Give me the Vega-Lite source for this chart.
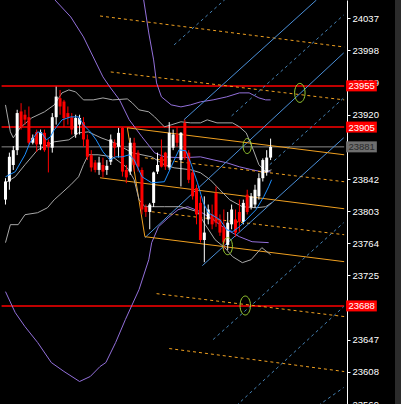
{
  "$schema": "https://vega.github.io/schema/vega-lite/v6.json",
  "width": 395,
  "height": 404,
  "autosize": {"type": "none"},
  "padding": {"left": 0, "top": 0, "right": 6, "bottom": 0},
  "background": "#2b2b2b",
  "config": {
    "view": {"stroke": null, "fill": "#000000"},
    "axis": {"grid": false, "title": null, "labelOverlap": false, "labelBound": false, "labelFlush": false},
    "axisY": {"labelOverlap": false, "domainColor": "#ffffff", "tickColor": "#ffffff", "labelColor": "#ffffff", "labelFont": "Liberation Sans", "labelFontSize": 9.5, "labelPadding": 2, "tickSize": 3}
  },
  "datasets": {
    "candles": [
      {"t":0,"o":23817,"h":23843,"l":23811,"c":23839},{"t":1,"o":23839,"h":23874,"l":23829,"c":23869},{"t":2,"o":23859,"h":23882,"l":23853,"c":23877},{"t":3,"o":23877,"h":23926,"l":23871,"c":23922},{"t":4,"o":23924,"h":23934,"l":23902,"c":23905},{"t":5,"o":23920,"h":23926,"l":23908,"c":23914},{"t":6,"o":23917,"h":23930,"l":23884,"c":23886},{"t":7,"o":23886,"h":23896,"l":23884,"c":23892},{"t":8,"o":23899,"h":23902,"l":23875,"c":23884},{"t":9,"o":23884,"h":23902,"l":23877,"c":23899},
      {"t":10,"o":23898,"h":23902,"l":23875,"c":23877},{"t":11,"o":23887,"h":23890,"l":23850,"c":23881},{"t":12,"o":23880,"h":23922,"l":23874,"c":23917},{"t":13,"o":23917,"h":23954,"l":23908,"c":23942},{"t":14,"o":23940,"h":23950,"l":23920,"c":23930},{"t":15,"o":23936,"h":23938,"l":23905,"c":23916},{"t":16,"o":23922,"h":23930,"l":23908,"c":23917},{"t":17,"o":23917,"h":23922,"l":23896,"c":23902},{"t":18,"o":23896,"h":23920,"l":23892,"c":23916},{"t":19,"o":23908,"h":23920,"l":23896,"c":23916},
      {"t":20,"o":23911,"h":23917,"l":23881,"c":23890},{"t":21,"o":23890,"h":23896,"l":23865,"c":23869},{"t":22,"o":23871,"h":23877,"l":23851,"c":23856},{"t":23,"o":23862,"h":23865,"l":23850,"c":23853},{"t":24,"o":23853,"h":23869,"l":23847,"c":23862},{"t":25,"o":23859,"h":23868,"l":23844,"c":23851},{"t":26,"o":23853,"h":23865,"l":23847,"c":23858},{"t":27,"o":23863,"h":23896,"l":23859,"c":23890},{"t":28,"o":23886,"h":23890,"l":23869,"c":23880},{"t":29,"o":23881,"h":23904,"l":23868,"c":23898},
      {"t":30,"o":23904,"h":23905,"l":23845,"c":23851},{"t":31,"o":23853,"h":23859,"l":23837,"c":23844},{"t":32,"o":23851,"h":23892,"l":23847,"c":23886},{"t":33,"o":23886,"h":23892,"l":23851,"c":23859},{"t":34,"o":23874,"h":23877,"l":23851,"c":23857},{"t":35,"o":23853,"h":23856,"l":23799,"c":23805},{"t":36,"o":23808,"h":23811,"l":23796,"c":23802},{"t":37,"o":23802,"h":23813,"l":23781,"c":23811},{"t":38,"o":23813,"h":23851,"l":23808,"c":23850},{"t":39,"o":23851,"h":23874,"l":23848,"c":23859},
      {"t":40,"o":23869,"h":23890,"l":23856,"c":23857},{"t":41,"o":23874,"h":23875,"l":23853,"c":23857},{"t":42,"o":23856,"h":23911,"l":23853,"c":23898},{"t":43,"o":23880,"h":23902,"l":23877,"c":23896},{"t":44,"o":23896,"h":23905,"l":23881,"c":23886},{"t":45,"o":23865,"h":23899,"l":23833,"c":23898},{"t":46,"o":23910,"h":23914,"l":23865,"c":23868},{"t":47,"o":23874,"h":23877,"l":23837,"c":23841},{"t":48,"o":23850,"h":23853,"l":23817,"c":23821},{"t":49,"o":23831,"h":23835,"l":23787,"c":23799},
      {"t":50,"o":23813,"h":23821,"l":23765,"c":23768},{"t":51,"o":23768,"h":23821,"l":23741,"c":23777},{"t":52,"o":23793,"h":23811,"l":23787,"c":23805},{"t":53,"o":23799,"h":23811,"l":23781,"c":23787},{"t":54,"o":23825,"h":23833,"l":23784,"c":23789},{"t":55,"o":23793,"h":23799,"l":23773,"c":23777},{"t":56,"o":23784,"h":23805,"l":23756,"c":23765},{"t":57,"o":23762,"h":23802,"l":23756,"c":23789},{"t":58,"o":23787,"h":23811,"l":23781,"c":23805},{"t":59,"o":23793,"h":23805,"l":23772,"c":23777},
      {"t":60,"o":23802,"h":23817,"l":23778,"c":23790},{"t":61,"o":23790,"h":23817,"l":23787,"c":23813},{"t":62,"o":23823,"h":23829,"l":23799,"c":23802},{"t":63,"o":23808,"h":23825,"l":23805,"c":23821},{"t":64,"o":23811,"h":23835,"l":23807,"c":23829},{"t":65,"o":23821,"h":23849,"l":23817,"c":23843},{"t":66,"o":23843,"h":23867,"l":23839,"c":23865},{"t":67,"o":23850,"h":23877,"l":23846,"c":23868},{"t":68,"o":23868,"h":23891,"l":23865,"c":23881}
    ],
    "lines": [
      {"g":"ma","id":"ma","t":0,"p":23844.7},{"g":"ma","id":"ma","t":2.5,"p":23850.8},{"g":"ma","id":"ma","t":5,"p":23871.4},{"g":"ma","id":"ma","t":6.25,"p":23885.9},{"g":"ma","id":"ma","t":8.25,"p":23899.2},{"g":"ma","id":"ma","t":9.25,"p":23898},{"g":"ma","id":"ma","t":10.5,"p":23889.5},{"g":"ma","id":"ma","t":11.5,"p":23893.2},{"g":"ma","id":"ma","t":12.5,"p":23901.7},{"g":"ma","id":"ma","t":14.5,"p":23913.8},{"g":"ma","id":"ma","t":16.75,"p":23917.4},{"g":"ma","id":"ma","t":18.75,"p":23917.4},{"g":"ma","id":"ma","t":20,"p":23907.7},{"g":"ma","id":"ma","t":21.75,"p":23899.2},{"g":"ma","id":"ma","t":23.25,"p":23889.5},{"g":"ma","id":"ma","t":25,"p":23875},{"g":"ma","id":"ma","t":26.75,"p":23865.3},{"g":"ma","id":"ma","t":28.25,"p":23868.9},{"g":"ma","id":"ma","t":30,"p":23868.9},{"g":"ma","id":"ma","t":31.75,"p":23871.4},{"g":"ma","id":"ma","t":33,"p":23865.3},{"g":"ma","id":"ma","t":35,"p":23844.7},{"g":"ma","id":"ma","t":37.5,"p":23837.4},{"g":"ma","id":"ma","t":40.75,"p":23838.7},{"g":"ma","id":"ma","t":42.5,"p":23856.8},{"g":"ma","id":"ma","t":44.5,"p":23877.4},{"g":"ma","id":"ma","t":46.25,"p":23876.2},{"g":"ma","id":"ma","t":47.5,"p":23861.7},{"g":"ma","id":"ma","t":49.25,"p":23837.4},{"g":"ma","id":"ma","t":50.75,"p":23813.2},{"g":"ma","id":"ma","t":52,"p":23801.1},{"g":"ma","id":"ma","t":53.75,"p":23796.2},{"g":"ma","id":"ma","t":55,"p":23792.6},{"g":"ma","id":"ma","t":56.75,"p":23780.5},{"g":"ma","id":"ma","t":58.25,"p":23778.1},{"g":"ma","id":"ma","t":60,"p":23784.1},{"g":"ma","id":"ma","t":61.75,"p":23792.6},{"g":"ma","id":"ma","t":64.25,"p":23804.7},{"g":"ma","id":"ma","t":66.25,"p":23820.6},{"g":"ma","id":"ma","t":67.5,"p":23832.6},{"g":"ma","id":"ma","t":68.25,"p":23841.1},

      {"g":"bb","id":"u","t":0,"p":23931.9},{"g":"bb","id":"u","t":1.25,"p":23899.2},{"g":"bb","id":"u","t":2,"p":23892},{"g":"bb","id":"u","t":3.75,"p":23904.1},{"g":"bb","id":"u","t":6.75,"p":23916.2},{"g":"bb","id":"u","t":10,"p":23923.5},{"g":"bb","id":"u","t":12.5,"p":23931.9},{"g":"bb","id":"u","t":14.5,"p":23946.5},{"g":"bb","id":"u","t":16.25,"p":23950.1},{"g":"bb","id":"u","t":18,"p":23947.7},{"g":"bb","id":"u","t":20,"p":23938},{"g":"bb","id":"u","t":22.5,"p":23938},{"g":"bb","id":"u","t":25,"p":23940.4},{"g":"bb","id":"u","t":27.5,"p":23938},{"g":"bb","id":"u","t":31.25,"p":23939.2},{"g":"bb","id":"u","t":32.5,"p":23934.4},{"g":"bb","id":"u","t":34.25,"p":23925.9},{"g":"bb","id":"u","t":36.75,"p":23923.5},{"g":"bb","id":"u","t":38.25,"p":23917.4},{"g":"bb","id":"u","t":40.75,"p":23905.3},{"g":"bb","id":"u","t":42.5,"p":23907.7},{"g":"bb","id":"u","t":45,"p":23911.4},{"g":"bb","id":"u","t":47.5,"p":23910.1},{"g":"bb","id":"u","t":50,"p":23910.1},{"g":"bb","id":"u","t":51.75,"p":23913.8},{"g":"bb","id":"u","t":54.25,"p":23910.1},{"g":"bb","id":"u","t":58.25,"p":23910.1},{"g":"bb","id":"u","t":60,"p":23905.3},{"g":"bb","id":"u","t":61.75,"p":23898},{"g":"bb","id":"u","t":63.25,"p":23881.1},{"g":"bb","id":"u","t":65,"p":23859.3},{"g":"bb","id":"u","t":66.75,"p":23850.8},{"g":"bb","id":"u","t":68.25,"p":23853.2},

      {"g":"bb","id":"m","t":0,"p":23837.4},{"g":"bb","id":"m","t":2.5,"p":23844.7},{"g":"bb","id":"m","t":5,"p":23859.3},{"g":"bb","id":"m","t":8.25,"p":23877.4},{"g":"bb","id":"m","t":12.5,"p":23887.1},{"g":"bb","id":"m","t":16.25,"p":23889.5},{"g":"bb","id":"m","t":18.75,"p":23898},{"g":"bb","id":"m","t":21.25,"p":23899.2},{"g":"bb","id":"m","t":24.5,"p":23892},{"g":"bb","id":"m","t":28,"p":23885.9},{"g":"bb","id":"m","t":32.5,"p":23873.8},{"g":"bb","id":"m","t":37.5,"p":23868.9},{"g":"bb","id":"m","t":40.75,"p":23859.3},{"g":"bb","id":"m","t":43.25,"p":23855.6},{"g":"bb","id":"m","t":47.5,"p":23853.2},{"g":"bb","id":"m","t":50,"p":23849.6},{"g":"bb","id":"m","t":52.5,"p":23841.1},{"g":"bb","id":"m","t":55,"p":23828.9},{"g":"bb","id":"m","t":57.5,"p":23816.8},{"g":"bb","id":"m","t":60.75,"p":23808.4},{"g":"bb","id":"m","t":64.25,"p":23807.1},{"g":"bb","id":"m","t":66.75,"p":23808.4},{"g":"bb","id":"m","t":68.25,"p":23813.2},

      {"g":"bb","id":"l","t":0,"p":23764.8},{"g":"bb","id":"l","t":1.25,"p":23786.6},{"g":"bb","id":"l","t":3.25,"p":23786.6},{"g":"bb","id":"l","t":5,"p":23798.7},{"g":"bb","id":"l","t":8.25,"p":23801.1},{"g":"bb","id":"l","t":10.75,"p":23807.1},{"g":"bb","id":"l","t":12.5,"p":23816.8},{"g":"bb","id":"l","t":14.5,"p":23825.3},{"g":"bb","id":"l","t":16.75,"p":23835},{"g":"bb","id":"l","t":18.75,"p":23844.7},{"g":"bb","id":"l","t":20,"p":23859.3},{"g":"bb","id":"l","t":21.25,"p":23871.4},{"g":"bb","id":"l","t":23.75,"p":23871.4},{"g":"bb","id":"l","t":27.5,"p":23868.9},{"g":"bb","id":"l","t":31.25,"p":23855.6},{"g":"bb","id":"l","t":33,"p":23841.1},{"g":"bb","id":"l","t":34.25,"p":23816.8},{"g":"bb","id":"l","t":35.75,"p":23808.4},{"g":"bb","id":"l","t":40.75,"p":23808.4},{"g":"bb","id":"l","t":45,"p":23808.4},{"g":"bb","id":"l","t":49.25,"p":23802.3},{"g":"bb","id":"l","t":51.25,"p":23786.6},{"g":"bb","id":"l","t":53.75,"p":23768.4},{"g":"bb","id":"l","t":56.25,"p":23758.7},{"g":"bb","id":"l","t":58.25,"p":23747.8},{"g":"bb","id":"l","t":60.75,"p":23740.5},{"g":"bb","id":"l","t":63,"p":23744.1},{"g":"bb","id":"l","t":65.75,"p":23758.7},{"g":"bb","id":"l","t":68,"p":23750.2},

      {"g":"env","id":"pu","t":35.25,"p":24065.3},{"g":"env","id":"pu","t":36.75,"p":24019.2},{"g":"env","id":"pu","t":38,"p":23986.5},{"g":"env","id":"pu","t":38.75,"p":23958.6},{"g":"env","id":"pu","t":40,"p":23941.7},{"g":"env","id":"pu","t":42.5,"p":23932},{"g":"env","id":"pu","t":45,"p":23929.5},{"g":"env","id":"pu","t":47.5,"p":23932},{"g":"env","id":"pu","t":50,"p":23935.6},{"g":"env","id":"pu","t":53.25,"p":23938},{"g":"env","id":"pu","t":56.75,"p":23941.7},{"g":"env","id":"pu","t":60,"p":23946.5},{"g":"env","id":"pu","t":62.5,"p":23946.5},{"g":"env","id":"pu","t":65,"p":23940.4},{"g":"env","id":"pu","t":66.75,"p":23938},{"g":"env","id":"pu","t":68,"p":23938},

      {"g":"env","id":"pm","t":11.5,"p":24065.3},{"g":"env","id":"pm","t":16.75,"p":24038.6},{"g":"env","id":"pm","t":20,"p":24014.4},{"g":"env","id":"pm","t":22.5,"p":23990.1},{"g":"env","id":"pm","t":25,"p":23965.9},{"g":"env","id":"pm","t":26.75,"p":23953.8},{"g":"env","id":"pm","t":29.25,"p":23938},{"g":"env","id":"pm","t":31.75,"p":23913.8},{"g":"env","id":"pm","t":35,"p":23893.2},{"g":"env","id":"pm","t":38.25,"p":23873.8},{"g":"env","id":"pm","t":40.75,"p":23868.9},{"g":"env","id":"pm","t":45,"p":23867.7},{"g":"env","id":"pm","t":50,"p":23868.9},{"g":"env","id":"pm","t":53.25,"p":23865.3},{"g":"env","id":"pm","t":56.75,"p":23861.7},{"g":"env","id":"pm","t":60,"p":23856.8},{"g":"env","id":"pm","t":63.25,"p":23853.2},{"g":"env","id":"pm","t":65.75,"p":23850.8},{"g":"env","id":"pm","t":68,"p":23850.8},

      {"g":"env","id":"pl","t":0,"p":23705.3},{"g":"env","id":"pl","t":2.5,"p":23679.9},{"g":"env","id":"pl","t":5,"p":23662.9},{"g":"env","id":"pl","t":8.25,"p":23643.6},{"g":"env","id":"pl","t":11.75,"p":23619.3},{"g":"env","id":"pl","t":15,"p":23608.5},{"g":"env","id":"pl","t":19,"p":23596.3},{"g":"env","id":"pl","t":21.75,"p":23602.4},{"g":"env","id":"pl","t":24.25,"p":23614.5},{"g":"env","id":"pl","t":25.75,"p":23619.3},{"g":"env","id":"pl","t":28.25,"p":23643.6},{"g":"env","id":"pl","t":30.75,"p":23671.4},{"g":"env","id":"pl","t":34.25,"p":23707.8},{"g":"env","id":"pl","t":36.75,"p":23744.1},{"g":"env","id":"pl","t":37.5,"p":23764.8},{"g":"env","id":"pl","t":39.25,"p":23784.1},{"g":"env","id":"pl","t":41.75,"p":23795},{"g":"env","id":"pl","t":44.25,"p":23804.7},{"g":"env","id":"pl","t":46.75,"p":23808.4},{"g":"env","id":"pl","t":50,"p":23802.3},{"g":"env","id":"pl","t":53.25,"p":23792.6},{"g":"env","id":"pl","t":56.75,"p":23780.5},{"g":"env","id":"pl","t":60,"p":23772},{"g":"env","id":"pl","t":63.25,"p":23765.9},{"g":"env","id":"pl","t":67.5,"p":23764.8},

      {"g":"fork","id":"f1","t":31.25,"p":23904.1},{"g":"fork","id":"f1","t":86.875,"p":23871.4},
      {"g":"fork","id":"f2","t":24.25,"p":23843.5},{"g":"fork","id":"f2","t":86.875,"p":23805.9},
      {"g":"fork","id":"f3","t":35.75,"p":23772},{"g":"fork","id":"f3","t":86.875,"p":23741.7},
      {"g":"fork","id":"f4","t":31.25,"p":23904.1},{"g":"fork","id":"f4","t":35.75,"p":23772},

      {"g":"forkd","id":"d1","t":24.25,"p":24039.8},{"g":"forkd","id":"d1","t":86.875,"p":24002.2},
      {"g":"forkd","id":"d2","t":27,"p":23971.9},{"g":"forkd","id":"d2","t":86.875,"p":23938},
      {"g":"forkd","id":"d3","t":35.75,"p":23867.7},{"g":"forkd","id":"d3","t":86.875,"p":23838.7},
      {"g":"forkd","id":"d4","t":37.5,"p":23802.3},{"g":"forkd","id":"d4","t":86.875,"p":23774.4},
      {"g":"forkd","id":"d5","t":38.75,"p":23702.9},{"g":"forkd","id":"d5","t":86.875,"p":23675.1},
      {"g":"forkd","id":"d6","t":42,"p":23636.3},{"g":"forkd","id":"d6","t":86.875,"p":23608.4},

      {"g":"diags","id":"b2","t":45.75,"p":23913.8},{"g":"diags","id":"b2","t":79.75,"p":24059.2},
      {"g":"diags","id":"s1","t":35.75,"p":23770.8},{"g":"diags","id":"s1","t":86.75,"p":23995},
      {"g":"diags","id":"s2","t":50.5,"p":23736.9},{"g":"diags","id":"s2","t":86.75,"p":23892},
      {"g":"diag","id":"b1","t":43.25,"p":24004.7},{"g":"diag","id":"b1","t":57,"p":24062.8},
      {"g":"diag","id":"bd1","t":58,"p":23918.6},{"g":"diag","id":"bd1","t":86.75,"p":24041},
      {"g":"diag","id":"bd2","t":65.5,"p":23849.6},{"g":"diag","id":"bd2","t":86.75,"p":23940.4},
      {"g":"diag","id":"b6","t":53.25,"p":23647.2},{"g":"diag","id":"b6","t":86.75,"p":23789},
      {"g":"diag","id":"b7","t":59.25,"p":23567.2},{"g":"diag","id":"b7","t":86.75,"p":23687.2},
      {"g":"diag","id":"b8","t":80.25,"p":23567.2},{"g":"diag","id":"b8","t":86.75,"p":23589}
    ],
    "levels": [
      {"p":23955,"kind":"line"},{"p":23905,"kind":"line"},{"p":23688,"kind":"line"},{"p":23881,"kind":"price"}
    ],
    "rings": [
      {"t":75.5,"p":23946.5,"kind":"big"},{"t":61.5,"p":23688.5,"kind":"big"},{"t":62,"p":23882,"kind":"small"},{"t":57,"p":23760.5,"kind":"mid"}
    ]
  },
  "layer": [
    {
      "data": {"name": "levels"},
      "mark": {"type": "rule", "clip": true},
      "encoding": {
        "x": {"datum": -1, "type": "quantitative", "scale": {"domain": [-0.125, 98.625], "nice": false, "zero": false}, "axis": null},
        "x2": {"datum": 86.875},
        "y": {"field": "p", "type": "quantitative", "scale": {"domain": [23569, 24059.2], "nice": false, "zero": false},
              "axis": {"orient": "right", "offset": -48, "tickCount": 30, "values": [24037,23998,23959,23920,23881,23842,23803,23764,23725,23686,23647,23608,23569], "format": "d", "labelExpr": "datum.value == 23686 || datum.value == 23881 ? '' : datum.label", "domainColor": "#ffffff", "domainWidth": 1, "tickColor": "#ffffff", "tickSize": 3, "tickWidth": 1, "labelColor": "#ffffff", "labelFont": "Liberation Sans", "labelFontSize": 9.5, "labelPadding": 2, "grid": false, "title": null, "labelOverlap": false, "labelSeparation": 0, "labelFlush": false, "labelBound": false}},
        "color": {"condition": {"test": "datum.kind === 'price'", "value": "#8a8a8a"}, "value": "#ff0000"},
        "strokeWidth": {"condition": {"test": "datum.kind === 'price'", "value": 1}, "value": 1.5}
      }
    },
    {
      "data": {"name": "lines"},
      "transform": [{"filter": {"field": "g", "equal": "env"}}],
      "mark": {"type": "line", "clip": true, "strokeWidth": 1, "color": "#9370db"},
      "encoding": {
        "x": {"field": "t", "type": "quantitative", "scale": {"domain": [-0.125, 98.625], "nice": false, "zero": false}, "axis": null},
        "y": {"field": "p", "type": "quantitative", "scale": {"domain": [23569, 24059.2], "nice": false, "zero": false}},
        "detail": {"field": "id"}
      }
    },
    {
      "data": {"name": "lines"},
      "transform": [{"filter": {"field": "g", "equal": "forkd"}}],
      "mark": {"type": "line", "clip": true, "strokeWidth": 1, "color": "#f0a020", "strokeDash": [3, 3]},
      "encoding": {
        "x": {"field": "t", "type": "quantitative", "scale": {"domain": [-0.125, 98.625], "nice": false, "zero": false}, "axis": null},
        "y": {"field": "p", "type": "quantitative", "scale": {"domain": [23569, 24059.2], "nice": false, "zero": false}},
        "detail": {"field": "id"}
      }
    },
    {
      "data": {"name": "lines"},
      "transform": [{"filter": {"field": "g", "equal": "diag"}}],
      "mark": {"type": "line", "clip": true, "strokeWidth": 1, "color": "#4682b4", "strokeDash": [3, 3]},
      "encoding": {
        "x": {"field": "t", "type": "quantitative", "scale": {"domain": [-0.125, 98.625], "nice": false, "zero": false}, "axis": null},
        "y": {"field": "p", "type": "quantitative", "scale": {"domain": [23569, 24059.2], "nice": false, "zero": false}},
        "detail": {"field": "id"}
      }
    },
    {
      "data": {"name": "lines"},
      "transform": [{"filter": {"field": "g", "equal": "diags"}}],
      "mark": {"type": "line", "clip": true, "strokeWidth": 1, "color": "#4a8fd8"},
      "encoding": {
        "x": {"field": "t", "type": "quantitative", "scale": {"domain": [-0.125, 98.625], "nice": false, "zero": false}, "axis": null},
        "y": {"field": "p", "type": "quantitative", "scale": {"domain": [23569, 24059.2], "nice": false, "zero": false}},
        "detail": {"field": "id"}
      }
    },
    {
      "data": {"name": "lines"},
      "transform": [{"filter": {"field": "g", "equal": "fork"}}],
      "mark": {"type": "line", "clip": true, "strokeWidth": 1, "color": "#f0a020"},
      "encoding": {
        "x": {"field": "t", "type": "quantitative", "scale": {"domain": [-0.125, 98.625], "nice": false, "zero": false}, "axis": null},
        "y": {"field": "p", "type": "quantitative", "scale": {"domain": [23569, 24059.2], "nice": false, "zero": false}},
        "detail": {"field": "id"}
      }
    },
    {
      "data": {"name": "lines"},
      "transform": [{"filter": {"field": "g", "equal": "bb"}}],
      "mark": {"type": "line", "clip": true, "strokeWidth": 1, "color": "#a8a8a8"},
      "encoding": {
        "x": {"field": "t", "type": "quantitative", "scale": {"domain": [-0.125, 98.625], "nice": false, "zero": false}, "axis": null},
        "y": {"field": "p", "type": "quantitative", "scale": {"domain": [23569, 24059.2], "nice": false, "zero": false}},
        "detail": {"field": "id"}
      }
    },
    {
      "data": {"name": "candles"},
      "mark": {"type": "rule", "strokeWidth": 1},
      "encoding": {
        "x": {"field": "t", "type": "quantitative", "scale": {"domain": [-0.125, 98.625], "nice": false, "zero": false}, "axis": null},
        "y": {"field": "l", "type": "quantitative", "scale": {"domain": [23569, 24059.2], "nice": false, "zero": false}},
        "y2": {"field": "h"},
        "color": {"condition": {"test": "datum.c < datum.o", "value": "#ff0000"}, "value": "#ffffff"}
      }
    },
    {
      "data": {"name": "candles"},
      "mark": {"type": "bar", "width": 3},
      "encoding": {
        "x": {"field": "t", "type": "quantitative", "scale": {"domain": [-0.125, 98.625], "nice": false, "zero": false}, "axis": null},
        "y": {"field": "o", "type": "quantitative", "scale": {"domain": [23569, 24059.2], "nice": false, "zero": false}},
        "y2": {"field": "c"},
        "color": {"condition": {"test": "datum.c < datum.o", "value": "#ff0000"}, "value": "#ffffff"}
      }
    },
    {
      "data": {"name": "lines"},
      "transform": [{"filter": {"field": "g", "equal": "ma"}}],
      "mark": {"type": "line", "clip": true, "strokeWidth": 1, "color": "#1e90ff"},
      "encoding": {
        "x": {"field": "t", "type": "quantitative", "scale": {"domain": [-0.125, 98.625], "nice": false, "zero": false}, "axis": null},
        "y": {"field": "p", "type": "quantitative", "scale": {"domain": [23569, 24059.2], "nice": false, "zero": false}},
        "detail": {"field": "id"}
      }
    },
    {
      "data": {"name": "rings"},
      "mark": {"type": "point", "filled": false, "strokeWidth": 1, "color": "#9acd32", "opacity": 1, "shape": "M -0.55 0 A 0.55 1 0 1 0 0.55 0 A 0.55 1 0 1 0 -0.55 0 Z"},
      "encoding": {
        "x": {"field": "t", "type": "quantitative", "scale": {"domain": [-0.125, 98.625], "nice": false, "zero": false}, "axis": null},
        "y": {"field": "p", "type": "quantitative", "scale": {"domain": [23569, 24059.2], "nice": false, "zero": false}},
        "size": {"field": "kind", "type": "nominal", "scale": {"domain": ["big", "mid", "small"], "range": [361, 225, 144]}, "legend": null}
      }
    },
    {
      "data": {"name": "levels"},
      "mark": {"type": "point", "filled": true, "opacity": 1, "strokeWidth": 0, "size": 484, "shape": "M -1.4 -0.5 L 1.4 -0.5 L 1.4 0.5 L -1.4 0.5 Z"},
      "encoding": {
        "x": {"datum": 91.3, "type": "quantitative", "scale": {"domain": [-0.125, 98.625], "nice": false, "zero": false}, "axis": null},
        "y": {"field": "p", "type": "quantitative", "scale": {"domain": [23569, 24059.2], "nice": false, "zero": false}},
        "color": {"condition": {"test": "datum.kind === 'price'", "value": "#6e6e6e"}, "value": "#ff0000"}
      }
    },
    {
      "data": {"name": "levels"},
      "mark": {"type": "text", "align": "left", "baseline": "middle", "font": "Liberation Sans", "fontSize": 9.5, "dy": 0.5},
      "encoding": {
        "x": {"datum": 87.95, "type": "quantitative", "scale": {"domain": [-0.125, 98.625], "nice": false, "zero": false}, "axis": null},
        "y": {"field": "p", "type": "quantitative", "scale": {"domain": [23569, 24059.2], "nice": false, "zero": false}},
        "text": {"field": "p", "type": "quantitative", "format": "d"},
        "color": {"condition": {"test": "datum.kind === 'price'", "value": "#2a2a2a"}, "value": "#ffffff"}
      }
    }
  ]
}
